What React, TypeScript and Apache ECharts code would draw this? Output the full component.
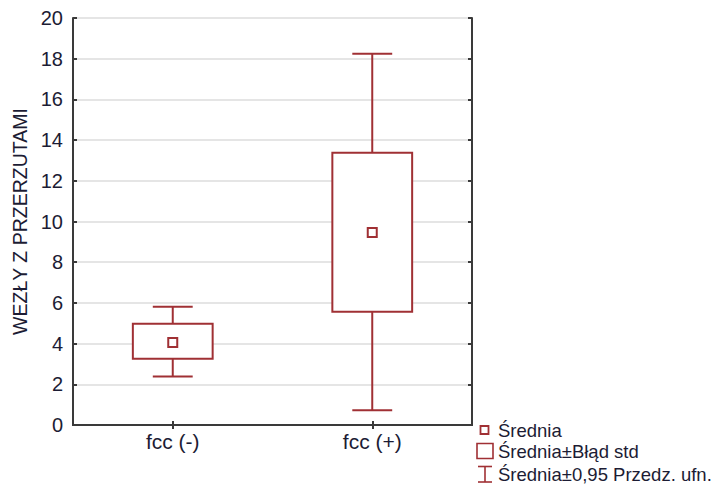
import React, { useEffect, useRef } from "react";
import * as echarts from "echarts";

// Groups and summary statistics
const categories = ["fcc (-)", "fcc (+)"];
const means = [4.05, 9.46];
const seLow = [3.25, 5.57];
const seHigh = [4.97, 13.38];
const ciLow = [2.38, 0.72];
const ciHigh = [5.81, 18.24];

const yTicks = [0, 2, 4, 6, 8, 10, 12, 14, 16, 18, 20];

const legendLabels = ["Średnia", "Średnia±Błąd std", "Średnia±0,95 Przedz. ufn."];

const RED = "#a03034";
const TEXT = "#1c1c34";
const AXIS = "#3a3a3a";
const FONT = "'Liberation Sans', Arial, sans-serif";

export default function App() {
  const ref = useRef<HTMLDivElement>(null);

  useEffect(() => {
    if (!ref.current) return;
    const chart = echarts.init(ref.current, undefined, { renderer: "svg" });

    const boxData = categories.map((_, i) => [i, ciLow[i], seLow[i], seHigh[i], ciHigh[i]]);
    const meanData = categories.map((_, i) => [i, means[i]]);

    const renderBox = (params: any, api: any) => {
      const idx = api.value(0);
      const bw = api.size([1, 0])[0];
      const boxW = bw * 0.4;
      const capW = bw * 0.2;
      const pLo = api.coord([idx, api.value(1)]);
      const pSeLo = api.coord([idx, api.value(2)]);
      const pSeHi = api.coord([idx, api.value(3)]);
      const pHi = api.coord([idx, api.value(4)]);
      const x = pLo[0];
      const lineStyle = { stroke: RED, lineWidth: 2, fill: "none" };
      return {
        type: "group",
        children: [
          { type: "line", shape: { x1: x, y1: pHi[1], x2: x, y2: pSeHi[1] }, style: lineStyle },
          { type: "line", shape: { x1: x, y1: pSeLo[1], x2: x, y2: pLo[1] }, style: lineStyle },
          { type: "line", shape: { x1: x - capW / 2, y1: pHi[1], x2: x + capW / 2, y2: pHi[1] }, style: lineStyle },
          { type: "line", shape: { x1: x - capW / 2, y1: pLo[1], x2: x + capW / 2, y2: pLo[1] }, style: lineStyle },
          {
            type: "rect",
            shape: { x: x - boxW / 2, y: pSeHi[1], width: boxW, height: pSeLo[1] - pSeHi[1] },
            style: { stroke: RED, lineWidth: 2, fill: "#ffffff" },
          },
        ],
      };
    };

    // Legend drawn as graphic items below the plot's right corner
    const lx = 477;
    const tx = 498;
    const rows = [430, 451, 474];
    const legendGraphics: any[] = [
      {
        type: "rect",
        shape: { x: 480.5, y: rows[0] - 4, width: 8, height: 8 },
        style: { stroke: RED, lineWidth: 1.8, fill: "#fff" },
      },
      {
        type: "rect",
        shape: { x: lx, y: rows[1] - 7.5, width: 16, height: 15 },
        style: { stroke: RED, lineWidth: 1.6, fill: "#fff" },
      },
      {
        type: "polyline",
        shape: { points: [[lx + 1, rows[2] - 7.5], [lx + 15, rows[2] - 7.5]] },
        style: { stroke: RED, lineWidth: 1.6 },
      },
      {
        type: "polyline",
        shape: { points: [[lx + 8, rows[2] - 7.5], [lx + 8, rows[2] + 8]] },
        style: { stroke: RED, lineWidth: 1.6 },
      },
      {
        type: "polyline",
        shape: { points: [[lx + 1, rows[2] + 8], [lx + 15, rows[2] + 8]] },
        style: { stroke: RED, lineWidth: 1.6 },
      },
      ...legendLabels.map((t, i) => ({
        type: "text",
        x: tx,
        y: rows[i],
        style: {
          text: t,
          fill: TEXT,
          font: `18.5px ${FONT}`,
          textVerticalAlign: "middle",
          textAlign: "left",
        },
      })),
    ];

    chart.setOption({
      animation: false,
      backgroundColor: "#ffffff",
      textStyle: { fontFamily: FONT },
      grid: { left: 73, right: 248, top: 18, bottom: 61, containLabel: false },
      xAxis: [
        {
          type: "category",
          data: categories,
          position: "bottom",
          axisLine: { show: true, lineStyle: { color: AXIS, width: 2 } },
          axisTick: { show: true, alignWithLabel: true, inside: true, length: 4, lineStyle: { color: AXIS, width: 2 } },
          axisLabel: { color: TEXT, fontSize: 21, margin: 6, fontFamily: FONT },
          splitLine: { show: false },
        },
        {
          type: "category",
          data: categories,
          position: "top",
          axisLine: { show: true, lineStyle: { color: AXIS, width: 2 } },
          axisTick: { show: true, alignWithLabel: true, inside: true, length: 4, lineStyle: { color: AXIS, width: 2 } },
          axisLabel: { show: false },
          splitLine: { show: false },
        },
      ],
      yAxis: [
        {
          type: "value",
          min: 0,
          max: 20,
          interval: 2,
          position: "left",
          name: "WEZŁY Z PRZERZUTAMI",
          nameLocation: "middle",
          nameGap: 42,
          nameTextStyle: { color: TEXT, fontSize: 19.5, fontFamily: FONT },
          axisLine: { show: true, lineStyle: { color: AXIS, width: 2 } },
          axisTick: { show: true, inside: true, length: 4, lineStyle: { color: AXIS, width: 2 } },
          axisLabel: {
            color: TEXT,
            fontSize: 20,
            margin: 10,
            fontFamily: FONT,
            formatter: (v: number) => (yTicks.includes(v) ? String(v) : ""),
          },
          splitLine: { show: true, lineStyle: { color: "#dcdcdc", width: 1.5 } },
        },
        {
          type: "value",
          min: 0,
          max: 20,
          interval: 2,
          position: "right",
          axisLine: { show: true, lineStyle: { color: AXIS, width: 2 } },
          axisTick: { show: true, inside: true, length: 4, lineStyle: { color: AXIS, width: 2 } },
          axisLabel: { show: false },
          splitLine: { show: false },
        },
      ],
      series: [
        {
          name: "Średnia±Błąd std",
          type: "custom",
          xAxisIndex: 0,
          yAxisIndex: 0,
          renderItem: renderBox,
          encode: { x: 0, y: [1, 2, 3, 4] },
          data: boxData,
          z: 2,
        },
        {
          name: "Średnia",
          type: "scatter",
          xAxisIndex: 0,
          yAxisIndex: 0,
          symbol: "rect",
          symbolSize: 9,
          itemStyle: { color: "#ffffff", borderColor: RED, borderWidth: 2, opacity: 1 },
          data: meanData,
          z: 3,
        },
      ],
      graphic: legendGraphics,
    });

    return () => chart.dispose();
  }, []);

  return <div ref={ref} style={{ width: 720, height: 486, position: "absolute", left: 0, top: 0 }} />;
}
